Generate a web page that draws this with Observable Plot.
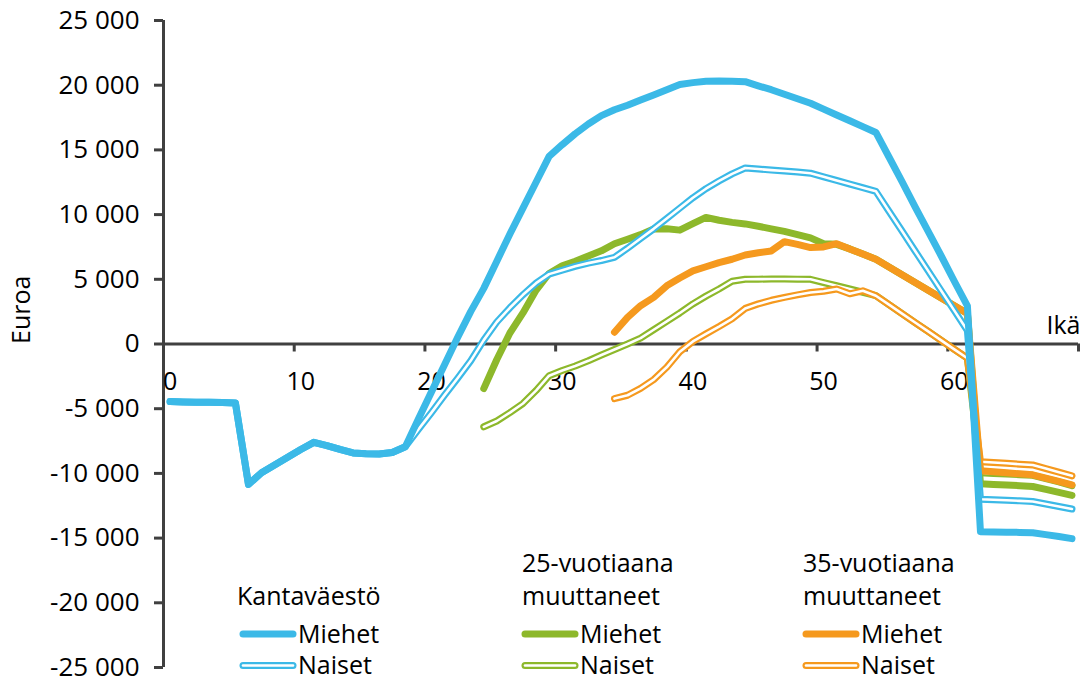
<!DOCTYPE html>
<html><head><meta charset="utf-8">
<script src="https://cdn.jsdelivr.net/npm/d3@7"></script>
<script src="https://cdn.jsdelivr.net/npm/@observablehq/plot@0.6"></script>
<style>html,body{margin:0;padding:0;background:#fff;overflow:hidden}#chart{position:relative;width:1084px;height:680px}</style>
</head><body><div id="chart"></div>
<script>
// Categories: age 0..69
const ages = d3.range(0, 70);
const xTickLabels = [0, 10, 20, 30, 40, 50, 60];
const yTicks = [-25000, -20000, -15000, -10000, -5000, 0, 5000, 10000, 15000, 20000, 25000];

// Series values (euros), index = age; null = no value
const kantaMiehet = [-4450,-4480,-4500,-4500,-4520,-4550,-10850,-9950,-9350,-8750,
  -8150,-7600,-7850,-8150,-8420,-8480,-8500,-8380,-7940,-5800,
  -3700,-1600,500,2500,4300,6400,8500,10500,12500,14500,
  15400,16250,17000,17650,18100,18450,18850,19250,19650,20050,
  20200,20300,20320,20300,20270,19950,19650,19300,18950,18600,
  18150,17700,17250,16800,16350,14450,12550,10600,8700,6800,
  4850,2950,-14500,-14520,-14540,-14560,-14580,-14730,-14880,-15040];
const kantaNaiset = [-4450,-4480,-4500,-4500,-4520,-4550,-10850,-9950,-9350,-8750,
  -8150,-7600,-7850,-8150,-8420,-8480,-8500,-8380,-7940,-6600,
  -5300,-3950,-2650,-1300,300,1700,2800,3800,4700,5400,
  5700,6000,6250,6450,6700,7400,8150,8900,9700,10500,
  11300,12000,12600,13150,13600,13520,13440,13370,13290,13200,
  12920,12640,12360,12080,11800,10260,8730,7190,5650,4110,
  2580,1040,-12000,-12040,-12080,-12120,-12170,-12360,-12560,-12750];
const m25Miehet = [null,null,null,null,null,null,null,null,null,null,
  null,null,null,null,null,null,null,null,null,null,
  null,null,null,null,-3450,-1200,850,2400,4150,5450,
  6050,6400,6800,7200,7750,8100,8450,8880,8900,8800,
  9300,9780,9560,9400,9280,9100,8900,8700,8450,8200,
  7750,7700,7350,6950,6550,5950,5350,4750,4150,3550,
  2950,2350,-10800,-10850,-10900,-10950,-11010,-11240,-11470,-11700];
const m25Naiset = [null,null,null,null,null,null,null,null,null,null,
  null,null,null,null,null,null,null,null,null,null,
  null,null,null,null,-6400,-5950,-5300,-4600,-3600,-2450,
  -2050,-1700,-1300,-850,-420,0,450,1100,1750,2400,
  3100,3700,4250,4850,5000,5010,5020,5020,5010,5000,
  4750,4500,4250,4000,3730,3040,2350,1660,970,280,
  -410,-1100,-9950,-10000,-10050,-10100,-10150,-10400,-10650,-10950];
const m35Miehet = [null,null,null,null,null,null,null,null,null,null,
  null,null,null,null,null,null,null,null,null,null,
  null,null,null,null,null,null,null,null,null,null,
  null,null,null,null,910,2060,2960,3600,4500,5100,
  5650,5970,6290,6550,6880,7050,7190,7910,7700,7450,
  7500,7750,7350,6950,6550,5950,5350,4750,4150,3550,
  2950,2350,-9800,-9870,-9950,-10030,-10110,-10370,-10620,-10880];
const m35Naiset = [null,null,null,null,null,null,null,null,null,null,
  null,null,null,null,null,null,null,null,null,null,
  null,null,null,null,null,null,null,null,null,null,
  null,null,null,null,-4220,-3960,-3430,-2750,-1800,-600,
  200,780,1350,1950,2750,3100,3380,3600,3800,3980,
  4080,4250,3880,4110,3730,3040,2350,1660,970,280,
  -410,-1100,-9100,-9160,-9220,-9290,-9350,-9630,-9910,-10190];

const groupTitles = [["Kantaväestö"], ["25-vuotiaana", "muuttaneet"], ["35-vuotiaana", "muuttaneet"]];
const itemLabels = ["Miehet", "Naiset"];

const BLUE = "#3BB9E7", GREEN = "#8DB82B", ORANGE = "#F5991E", AXIS = "#404040";
const groupColors = [BLUE, GREEN, ORANGE];

// drawing order: 25, 35, kanta (naiset under miehet)
const series = [
  {values: m25Naiset, color: GREEN, dbl: true},
  {values: m25Miehet, color: GREEN, dbl: false},
  {values: m35Naiset, color: ORANGE, dbl: true},
  {values: m35Miehet, color: ORANGE, dbl: false},
  {values: kantaNaiset, color: BLUE, dbl: true},
  {values: kantaMiehet, color: BLUE, dbl: false}
];

const xDomain = [-0.5, 69.5];
const xTickPos = d3.range(0, 8).map(i => xDomain[0] + i * 10);

const fmt = d => d === 0 ? "0" : (d < 0 ? "-" : "") + d3.format(",")(Math.abs(d)).replace(/,/g, " ");

const W = 7, INNER = 2.6, FS = 25;
const lineMarks = [];
for (const s of series) {
  const rows = ages.map((a, i) => ({age: a, value: s.values[i]}));
  lineMarks.push(Plot.line(rows, {x: "age", y: "value", stroke: s.color, strokeWidth: W, strokeLinecap: "round", strokeLinejoin: "round"}));
  if (s.dbl) lineMarks.push(Plot.line(rows, {x: "age", y: "value", stroke: "white", strokeWidth: INNER, strokeLinecap: "round", strokeLinejoin: "round"}));
}

const chart = Plot.plot({
  width: 1084, height: 680,
  marginLeft: 163, marginRight: 6, marginTop: 20, marginBottom: 13,
  style: {fontFamily: "Open Sans", fontSize: FS + "px", color: "black", background: "white", overflow: "visible"},
  x: {domain: xDomain, axis: null},
  y: {domain: [-25000, 25000], axis: null},
  marks: [
    Plot.axisY(yTicks, {tickFormat: fmt, tickSize: 9, tickPadding: 15, stroke: AXIS, strokeWidth: 3, fill: "black", label: null, fontSize: 26}),
    Plot.ruleX([xDomain[0]], {stroke: AXIS, strokeWidth: 3}),
    Plot.ruleY([0], {stroke: AXIS, strokeWidth: 3}),
    Plot.ruleX(xTickPos, {x: d => d, y1: 0, y2: 0, insetBottom: -8, stroke: AXIS, strokeWidth: 3}),
    Plot.text(xTickLabels, {x: d => d, y: 0, text: d => String(d), dy: 46, lineAnchor: "bottom", fill: "black", fontSize: FS}),
    Plot.text(["Ikä"], {x: () => xDomain[1], y: 0, text: d => d, textAnchor: "end", lineAnchor: "bottom", dx: 2, dy: -10, fill: "black", fontSize: FS}),
    Plot.text(["Euroa"], {frameAnchor: "left", text: d => d, rotate: -90, dx: -142, fill: "black", fontSize: FS}),
    ...lineMarks
  ]
});

document.getElementById("chart").appendChild(chart);

// Legend inside plot area
const titleX = [237, 522, 803];
const lineX = [240, 522, 803];
const g = d3.select(chart).append("g")
  .attr("font-family", "Open Sans").attr("font-size", FS).attr("fill", "black").attr("text-anchor", "start");
groupTitles.forEach((lines, gi) => {
  lines.forEach((t, li) => {
    g.append("text").attr("x", titleX[gi]).attr("y", 605 - (lines.length - 1 - li) * 33).text(t);
  });
  itemLabels.forEach((lab, ii) => {
    const y = ii === 0 ? 634 : 665.5;
    const x1 = lineX[gi] + 3, x2 = lineX[gi] + 53;
    g.append("line").attr("x1", x1).attr("x2", x2).attr("y1", y).attr("y2", y)
      .attr("stroke", groupColors[gi]).attr("stroke-width", W).attr("stroke-linecap", "round");
    if (ii === 1) {
      g.append("line").attr("x1", x1).attr("x2", x2).attr("y1", y).attr("y2", y)
        .attr("stroke", "white").attr("stroke-width", INNER).attr("stroke-linecap", "round");
    }
    g.append("text").attr("x", lineX[gi] + 58).attr("y", y + 8.5).text(lab);
  });
});
</script></body></html>
